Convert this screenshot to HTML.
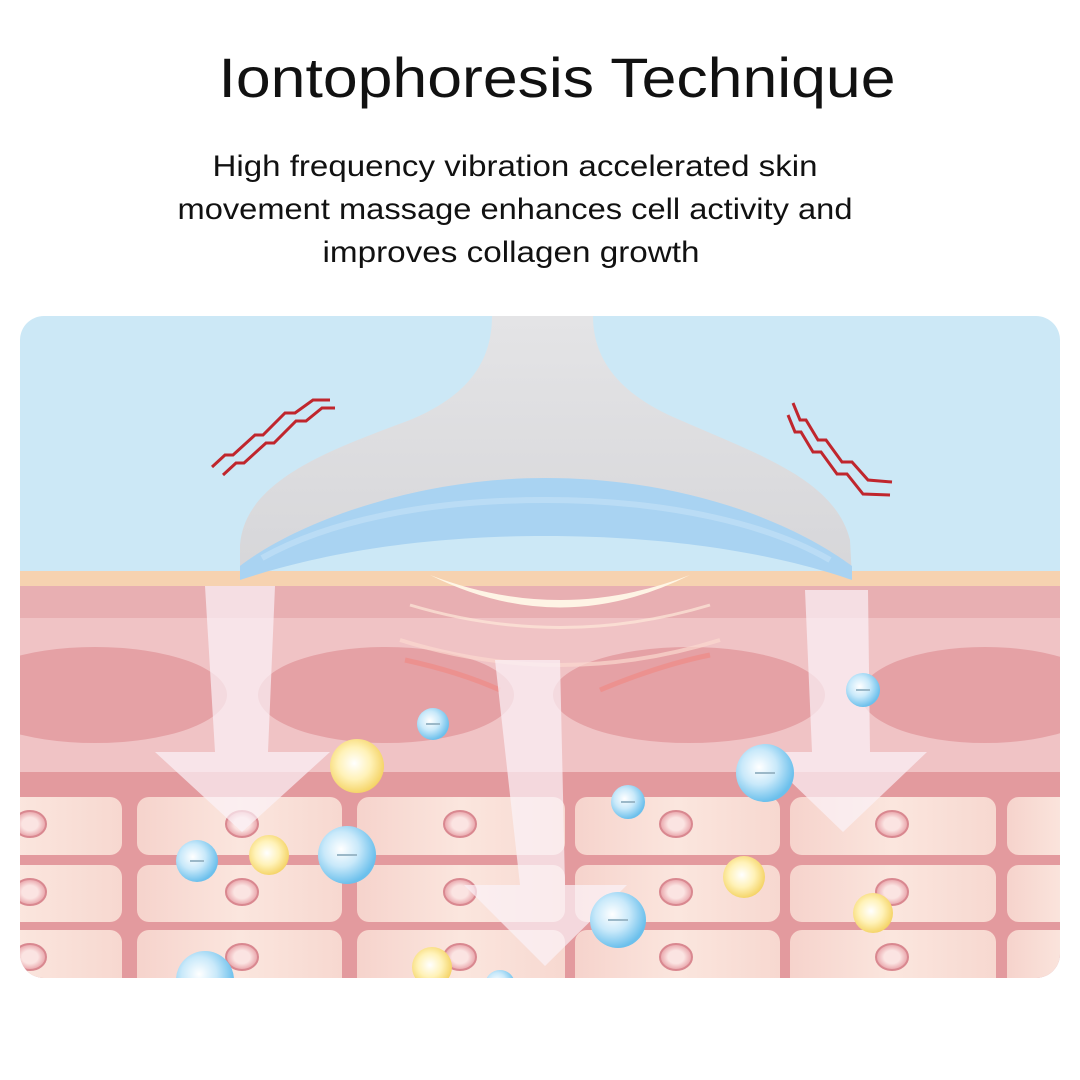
<!DOCTYPE html>
<html><head><meta charset="utf-8"><style>
html,body{margin:0;padding:0;background:#fff;}
svg{display:block;}
text{font-family:"Liberation Sans",sans-serif;fill:#111;}
</style></head><body>
<svg width="1080" height="1080" viewBox="0 0 1080 1080" xmlns="http://www.w3.org/2000/svg">
<defs>
<clipPath id="panel"><rect x="20" y="316" width="1040" height="662" rx="24"/></clipPath>
<radialGradient id="gb" cx="0.4" cy="0.4" r="0.6"><stop offset="0" stop-color="#ffffff"/><stop offset="0.5" stop-color="#c9e9fa"/><stop offset="1" stop-color="#6cc0ec"/></radialGradient>
<radialGradient id="gy" cx="0.45" cy="0.45" r="0.6"><stop offset="0" stop-color="#ffffff"/><stop offset="0.5" stop-color="#fff2b8"/><stop offset="1" stop-color="#f3cf5a"/></radialGradient>
<linearGradient id="dev" x1="0" y1="0" x2="0" y2="1"><stop offset="0" stop-color="#e4e4e6"/><stop offset="1" stop-color="#d6d6d9"/></linearGradient>
<linearGradient id="cell" x1="0" y1="0" x2="1" y2="0"><stop offset="0" stop-color="#f6d3cc"/><stop offset="0.5" stop-color="#fbe6de"/><stop offset="1" stop-color="#f7d8d0"/></linearGradient>
<radialGradient id="nuc" cx="0.5" cy="0.5" r="0.5"><stop offset="0.5" stop-color="#fbe4e2"/><stop offset="1" stop-color="#e8a2a8"/></radialGradient>
</defs>

<text x="557" y="97" font-size="56" text-anchor="middle" textLength="677" lengthAdjust="spacingAndGlyphs">Iontophoresis Technique</text>
<text x="515" y="176" font-size="30" text-anchor="middle" textLength="605" lengthAdjust="spacingAndGlyphs">High frequency vibration accelerated skin</text>
<text x="515" y="219" font-size="30" text-anchor="middle" textLength="675" lengthAdjust="spacingAndGlyphs">movement massage enhances cell activity and</text>
<text x="511" y="262" font-size="30" text-anchor="middle" textLength="377" lengthAdjust="spacingAndGlyphs">improves collagen growth</text>

<g clip-path="url(#panel)">
<rect x="20" y="316" width="1040" height="662" fill="#cce8f6"/>
<rect x="20" y="571" width="1040" height="15" fill="#f6d2b0"/>
<rect x="20" y="586" width="1040" height="32" fill="#e8afb2"/>
<rect x="20" y="618" width="1040" height="160" fill="#f0c3c5"/>
<ellipse cx="95" cy="695" rx="132" ry="48" fill="#e5a1a5"/>
<ellipse cx="386" cy="695" rx="128" ry="48" fill="#e5a1a5"/>
<ellipse cx="689" cy="695" rx="136" ry="48" fill="#e5a1a5"/>
<ellipse cx="985" cy="695" rx="124" ry="48" fill="#e5a1a5"/>
<rect x="20" y="772" width="1040" height="206" fill="#e39a9e"/>
<g fill="url(#cell)">
<rect x="-90" y="797" width="212" height="58" rx="12"/><rect x="137" y="797" width="205" height="58" rx="12"/><rect x="357" y="797" width="208" height="58" rx="12"/><rect x="575" y="797" width="205" height="58" rx="12"/><rect x="790" y="797" width="206" height="58" rx="12"/><rect x="1007" y="797" width="120" height="58" rx="12"/>
<rect x="-90" y="865" width="212" height="57" rx="12"/><rect x="137" y="865" width="205" height="57" rx="12"/><rect x="357" y="865" width="208" height="57" rx="12"/><rect x="575" y="865" width="205" height="57" rx="12"/><rect x="790" y="865" width="206" height="57" rx="12"/><rect x="1007" y="865" width="120" height="57" rx="12"/>
<rect x="-90" y="930" width="212" height="70" rx="12"/><rect x="137" y="930" width="205" height="70" rx="12"/><rect x="357" y="930" width="208" height="70" rx="12"/><rect x="575" y="930" width="205" height="70" rx="12"/><rect x="790" y="930" width="206" height="70" rx="12"/><rect x="1007" y="930" width="120" height="70" rx="12"/>
</g>
<g fill="url(#nuc)" stroke="#d98890" stroke-width="2">
<ellipse cx="30" cy="824" rx="16" ry="13"/><ellipse cx="242" cy="824" rx="16" ry="13"/><ellipse cx="460" cy="824" rx="16" ry="13"/><ellipse cx="676" cy="824" rx="16" ry="13"/><ellipse cx="892" cy="824" rx="16" ry="13"/>
<ellipse cx="30" cy="892" rx="16" ry="13"/><ellipse cx="242" cy="892" rx="16" ry="13"/><ellipse cx="460" cy="892" rx="16" ry="13"/><ellipse cx="676" cy="892" rx="16" ry="13"/><ellipse cx="892" cy="892" rx="16" ry="13"/>
<ellipse cx="30" cy="957" rx="16" ry="13"/><ellipse cx="242" cy="957" rx="16" ry="13"/><ellipse cx="460" cy="957" rx="16" ry="13"/><ellipse cx="676" cy="957" rx="16" ry="13"/><ellipse cx="892" cy="957" rx="16" ry="13"/>
</g>

<!-- glow waves -->
<path d="M430 575 Q560 640 690 575 Q560 625 430 575Z" fill="#fff8e8" opacity="0.95"/>
<path d="M410 605 Q560 650 710 605" stroke="#fde8d8" stroke-width="3" fill="none" opacity="0.7"/>
<path d="M400 640 Q560 690 720 640" stroke="#fbd9cf" stroke-width="4" fill="none" opacity="0.7"/>
<path d="M405 660 Q460 672 500 690 M600 690 Q660 665 710 655" stroke="#f08a86" stroke-width="5" fill="none" opacity="0.7"/>

<!-- arrows -->
<g fill="#fbf2f8" opacity="0.7">
<path d="M205 586 L275 586 L268 752 L330 752 L242 832 L155 752 L215 752 Z"/>
<path d="M805 590 L868 590 L870 752 L927 752 L843 832 L760 752 L812 752 Z"/>
<path d="M495 660 L560 660 L565 885 L627 885 L545 966 L464 885 L520 885 Z"/>
</g>

<!-- device -->
<path d="M492 316 L593 316 C593 360 620 395 680 420 C760 455 835 480 850 540 L852 578 C800 560 700 535 545 535 C400 535 300 560 240 578 L240 545 C245 480 330 450 410 420 C470 395 492 360 492 316Z" fill="url(#dev)"/>
<path d="M240 566 C300 520 420 478 545 478 C680 478 790 520 852 566 L852 580 C800 562 700 536 545 536 C400 536 300 560 240 580 Z" fill="#a9d3f2"/>
<path d="M262 558 C330 520 430 500 545 500 C670 500 770 525 830 560" stroke="#c6e3f7" stroke-width="6" fill="none" opacity="0.6"/>

<!-- zigzags -->
<g stroke="#c0262d" stroke-width="3" fill="none">
<path d="M212 467 L225 455 L233 455 L255 435 L263 435 L285 413 L295 413 L313 400 L330 400"/>
<path d="M223 475 L236 463 L244 463 L266 443 L274 443 L296 421 L306 421 L322 408 L335 408"/>
<path d="M793 403 L800 420 L806 420 L818 440 L826 440 L842 462 L852 462 L868 480 L892 482"/>
<path d="M788 415 L795 432 L801 432 L813 452 L821 452 L837 474 L847 474 L863 494 L890 495"/>
</g>

<!-- bubbles -->
<g stroke-width="1">
<circle cx="433" cy="724" r="16" fill="url(#gb)"/>
<circle cx="357" cy="766" r="27" fill="url(#gy)"/>
<circle cx="863" cy="690" r="17" fill="url(#gb)"/>
<circle cx="765" cy="773" r="29" fill="url(#gb)"/>
<circle cx="628" cy="802" r="17" fill="url(#gb)"/>
<circle cx="197" cy="861" r="21" fill="url(#gb)"/>
<circle cx="269" cy="855" r="20" fill="url(#gy)"/>
<circle cx="347" cy="855" r="29" fill="url(#gb)"/>
<circle cx="744" cy="877" r="21" fill="url(#gy)"/>
<circle cx="618" cy="920" r="28" fill="url(#gb)"/>
<circle cx="873" cy="913" r="20" fill="url(#gy)"/>
<circle cx="205" cy="980" r="29" fill="url(#gb)"/>
<circle cx="432" cy="967" r="20" fill="url(#gy)"/>
<circle cx="500" cy="985" r="15" fill="url(#gb)"/>
</g>
<g stroke="#9bb8c8" stroke-width="2">
<path d="M426 724h14M856 690h14M755 773h20M621 802h14M190 861h14M337 855h20M608 920h20"/>
</g>
</g>
</svg>
</body></html>
